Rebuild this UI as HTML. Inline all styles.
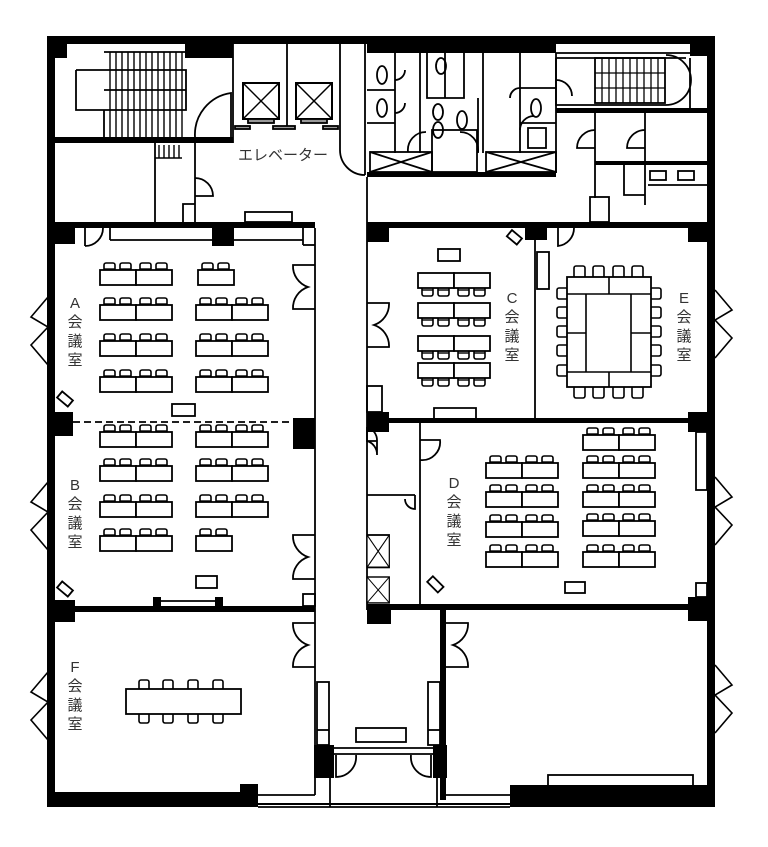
<!DOCTYPE html>
<html><head><meta charset="utf-8"><style>
html,body{margin:0;padding:0;background:#fff;}
svg{display:block;}
text{font-family:"Liberation Sans","Noto Sans CJK JP",sans-serif;fill:#333;}
</style></head><body>
<svg width="768" height="847" viewBox="0 0 768 847" xmlns="http://www.w3.org/2000/svg">
<defs>
<g id="ch"><rect x="0" y="0" width="11" height="9" rx="2" fill="#fff" stroke="#000" stroke-width="1.6"/><line x1="0" y1="6" x2="11" y2="6" stroke="#000" stroke-width="1.4"/></g>
<g id="ta"><use href="#ch" x="4" y="0"/><use href="#ch" x="20" y="0"/><rect x="0" y="7" width="36" height="15" fill="#fff" stroke="#000" stroke-width="1.8"/></g>
<g id="ta2"><use href="#ta" x="0"/><use href="#ta" x="36"/></g>
<g id="chb"><rect x="0" y="0" width="11" height="9" rx="2" fill="#fff" stroke="#000" stroke-width="1.6"/><line x1="0" y1="3" x2="11" y2="3" stroke="#000" stroke-width="1.4"/></g>
<g id="tb"><use href="#chb" x="4" y="14"/><use href="#chb" x="20" y="14"/><rect x="0" y="0" width="36" height="15" fill="#fff" stroke="#000" stroke-width="1.8"/></g>
<g id="tb2"><use href="#tb" x="0"/><use href="#tb" x="36"/></g>
<g id="win"><polyline points="0,0 -17,20 0,30 0,30 -17,48 0,68" fill="none" stroke="#000" stroke-width="1.6"/></g>
<g id="winr"><polyline points="0,0 17,20 0,30 0,30 17,48 0,68" fill="none" stroke="#000" stroke-width="1.6"/></g>
<g id="xb"><rect x="0" y="0" width="36" height="36" fill="#fff" stroke="#000" stroke-width="2"/><line x1="0" y1="0" x2="36" y2="36" stroke="#000" stroke-width="1.5"/><line x1="36" y1="0" x2="0" y2="36" stroke="#000" stroke-width="1.5"/></g>
<g id="dd"><path d="M0,0 H22 A22,22 0 0 1 7,22 A22,22 0 0 1 22,44 H0" fill="none" stroke="#000" stroke-width="1.8"/></g>
</defs>

<g fill="none" stroke="#000" stroke-width="1.8">
<rect x="51" y="40" width="660" height="764" stroke-width="2"/>
</g>
<g fill="#000">
<rect x="47" y="36" width="668" height="8"/>
<rect x="47" y="36" width="8" height="771"/>
<rect x="707" y="36" width="8" height="771"/>
<rect x="47" y="792" width="211" height="15"/>
<rect x="510" y="785" width="205" height="22"/>
<rect x="47" y="36" width="20" height="22"/>
<rect x="185" y="36" width="48" height="22"/>
<rect x="367" y="36" width="189" height="17"/>
<rect x="690" y="36" width="25" height="20"/>
<rect x="47" y="137" width="186" height="6"/>
<rect x="367" y="172" width="189" height="5"/>
<rect x="556" y="108" width="159" height="5"/>
<rect x="595" y="161" width="112" height="4"/>
<rect x="47" y="222" width="268" height="6"/>
<rect x="367" y="222" width="348" height="6"/>
<rect x="47" y="222" width="28" height="22"/>
<rect x="212" y="222" width="22" height="24"/>
<rect x="367" y="222" width="22" height="20"/>
<rect x="525" y="222" width="22" height="18"/>
<rect x="688" y="222" width="27" height="20"/>
<rect x="47" y="412" width="26" height="24"/>
<rect x="293" y="418" width="22" height="31"/>
<rect x="367" y="412" width="22" height="20"/>
<rect x="688" y="412" width="27" height="20"/>
<rect x="367" y="418" width="348" height="5"/>
<rect x="47" y="600" width="28" height="22"/>
<rect x="47" y="606" width="268" height="6"/>
<rect x="367" y="604" width="348" height="6"/>
<rect x="367" y="604" width="24" height="20"/>
<rect x="688" y="597" width="27" height="24"/>
<rect x="153" y="597" width="8" height="12"/>
<rect x="215" y="597" width="8" height="12"/>
<rect x="440" y="610" width="6" height="190"/>
<rect x="314" y="745" width="20" height="33"/>
<rect x="433" y="745" width="14" height="33"/>
<rect x="240" y="784" width="18" height="10"/>
</g>

<g fill="none" stroke="#000" stroke-width="1.8">
<line x1="315" y1="228" x2="315" y2="795"/>
<line x1="367" y1="177" x2="367" y2="610"/>
<line x1="258" y1="795" x2="315" y2="795"/>
<line x1="258" y1="807" x2="510" y2="807"/>
<line x1="330" y1="778" x2="330" y2="807"/>
<line x1="437" y1="778" x2="437" y2="807"/>
<line x1="446" y1="795" x2="510" y2="795"/>
<rect x="317" y="682" width="12" height="63"/><line x1="317" y1="730" x2="329" y2="730"/>
<rect x="428" y="682" width="12" height="63"/><line x1="428" y1="730" x2="440" y2="730"/>
<rect x="356" y="728" width="50" height="14"/>
<line x1="334" y1="748" x2="433" y2="748"/><line x1="334" y1="754" x2="433" y2="754"/>
<path d="M336,755 v22 a20,20 0 0 0 20,-22"/>
<path d="M431,755 v22 a20,20 0 0 1 -20,-22"/>
<line x1="233" y1="40" x2="233" y2="143"/>
<line x1="287" y1="40" x2="287" y2="128"/>
<line x1="340" y1="40" x2="340" y2="150"/>
<path d="M340,150 a25,25 0 0 0 25,25 M365,40 v135"/>
<use href="#xb" x="243" y="83"/><use href="#xb" x="296" y="83"/>
<rect x="248" y="119" width="26" height="4" fill="#999"/>
<rect x="301" y="119" width="26" height="4" fill="#999"/>
<rect x="235" y="126" width="15" height="3" fill="#999"/>
<rect x="273" y="126" width="22" height="3" fill="#999"/>
<rect x="323" y="126" width="15" height="3" fill="#999"/>
<path d="M231,137 v-44 a42,42 0 0 0 -36,44"/>
<line x1="195" y1="143" x2="195" y2="222"/>
<line x1="155" y1="143" x2="155" y2="222"/>
<path d="M195,178 a18,18 0 0 1 18,18 h-18"/>
<path d="M183,222 v-18 h12"/>
<rect x="245" y="212" width="47" height="10"/>
<path d="M104,52 h83 M76,70 h110 v40 h-82 v28 M76,70 v40 h28 M104,110 h82 M104,90 h82"/>
<g stroke-width="1.4">
<line x1="110" y1="52" x2="110" y2="138"/><line x1="116" y1="52" x2="116" y2="138"/><line x1="122" y1="52" x2="122" y2="138"/><line x1="128" y1="52" x2="128" y2="138"/><line x1="134" y1="52" x2="134" y2="138"/><line x1="140" y1="52" x2="140" y2="138"/><line x1="146" y1="52" x2="146" y2="138"/><line x1="152" y1="52" x2="152" y2="138"/><line x1="158" y1="52" x2="158" y2="138"/><line x1="164" y1="52" x2="164" y2="138"/><line x1="170" y1="52" x2="170" y2="138"/><line x1="176" y1="52" x2="176" y2="138"/><line x1="182" y1="52" x2="182" y2="138"/>
<line x1="159" y1="145" x2="159" y2="158"/><line x1="164" y1="145" x2="164" y2="158"/><line x1="169" y1="145" x2="169" y2="158"/><line x1="174" y1="145" x2="174" y2="158"/><line x1="179" y1="145" x2="179" y2="158"/><line x1="155" y1="158" x2="182" y2="158"/>
</g>
<path d="M395,53 v100 M367,90 h28 M367,123 h28 M420,53 v100 M427,53 v45 h37 v-45 M445,53 v45 M478,98 v55 M483,53 v100 M520,53 v100 M520,88 h36 M520,123 h36 M556,53 v120"/>
<ellipse cx="382" cy="75" rx="5" ry="9"/><ellipse cx="382" cy="108" rx="5" ry="9"/>
<ellipse cx="441" cy="66" rx="5" ry="8"/><ellipse cx="438" cy="112" rx="5" ry="8"/><ellipse cx="438" cy="130" rx="5" ry="8"/><ellipse cx="462" cy="120" rx="5" ry="9"/><ellipse cx="536" cy="108" rx="5" ry="9"/>
<rect x="432" y="130" width="45" height="42"/>
<rect x="528" y="128" width="18" height="20"/>
<rect x="370" y="152" width="62" height="20"/><path d="M370,152 L432,172 M432,152 L370,172"/>
<rect x="486" y="152" width="70" height="20"/><path d="M486,152 L556,172 M556,152 L486,172"/>
<path d="M395,80 a10,10 0 0 0 10,-10 M395,113 a10,10 0 0 0 10,-10 M510,98 a10,10 0 0 1 10,-10 M408,152 a18,18 0 0 1 18,-20 M478,152 a18,18 0 0 0 -18,-20 M520,130 a14,14 0 0 1 14,-14"/>
<path d="M556,53 h134 M556,58 h130 M556,58 v47 h110 a25,25 0 0 0 0,-50 M690,58 v50"/>
<path d="M556,80 a16,16 0 0 1 16,16"/>
<rect x="595" y="58" width="70" height="45"/>
<g stroke-width="1.3"><line x1="602" y1="58" x2="602" y2="103"/><line x1="609" y1="58" x2="609" y2="103"/><line x1="616" y1="58" x2="616" y2="103"/><line x1="623" y1="58" x2="623" y2="103"/><line x1="630" y1="58" x2="630" y2="103"/><line x1="637" y1="58" x2="637" y2="103"/><line x1="644" y1="58" x2="644" y2="103"/><line x1="651" y1="58" x2="651" y2="103"/><line x1="658" y1="58" x2="658" y2="103"/><line x1="595" y1="73" x2="665" y2="73"/><line x1="595" y1="88" x2="665" y2="88"/></g>
<line x1="595" y1="113" x2="595" y2="198"/><line x1="645" y1="113" x2="645" y2="205"/>
<path d="M595,148 h-18 a18,18 0 0 1 18,-18 M645,148 h-18 a18,18 0 0 1 18,-18"/>
<path d="M624,165 v30 h21"/>
<rect x="650" y="171" width="16" height="9"/><rect x="678" y="171" width="16" height="9"/>
<line x1="648" y1="185" x2="707" y2="185"/>
<rect x="590" y="197" width="19" height="25"/>
<!-- Room A -->
<line x1="110" y1="228" x2="110" y2="240"/><line x1="110" y1="240" x2="212" y2="240"/>
<line x1="234" y1="240" x2="303" y2="240"/><line x1="303" y1="228" x2="303" y2="245"/><line x1="303" y1="245" x2="315" y2="245"/>
<path d="M85,246 a18,18 0 0 0 18,-18 M85,228 v18"/>
<use href="#dd" transform="translate(315,265) scale(-1,1)"/>
<rect x="58" y="395" width="14" height="8" transform="rotate(40 65 399)"/>
<rect x="172" y="404" width="23" height="12"/>
<line x1="73" y1="422" x2="293" y2="422" stroke-dasharray="7,4"/>
<!-- Room B -->
<rect x="196" y="576" width="21" height="12"/>
<rect x="58" y="585" width="14" height="8" transform="rotate(40 65 589)"/>
<use href="#dd" transform="translate(315,535) scale(-1,1)"/>
<rect x="303" y="594" width="12" height="12"/>
<line x1="161" y1="601" x2="215" y2="601"/>
<!-- Room F -->
<use href="#dd" transform="translate(315,623) scale(-1,1)"/>
<!-- Room C -->
<use href="#dd" transform="translate(367,303)"/>
<rect x="367" y="386" width="15" height="26"/>
<rect x="438" y="249" width="22" height="12"/>
<rect x="508" y="233" width="13" height="8" transform="rotate(40 514 237)"/>
<path d="M434,418 v-10 h42 v10"/>
<line x1="535" y1="228" x2="535" y2="418"/>
<!-- Room E -->
<rect x="537" y="252" width="12" height="37"/>
<path d="M558,228 v18 a18,18 0 0 0 16,-18"/>
<!-- D area -->
<line x1="420" y1="423" x2="420" y2="604"/>
<line x1="367" y1="495" x2="415" y2="495"/>
<path d="M367,427 v14 h10 a14,14 0 0 0 -10,-14 M367,441 a14,14 0 0 1 10,14 v-14 M420,460 a18,18 0 0 0 20,-20 h-20"/>
<path d="M415,495 v14 a10,10 0 0 1 -10,-10"/>
<use href="#xb" transform="translate(367,535) scale(0.62,0.9)"/>
<use href="#xb" transform="translate(367,577) scale(0.62,0.72)"/>
<rect x="428" y="580" width="15" height="8" transform="rotate(45 435 584)"/>
<rect x="565" y="582" width="20" height="11"/>
<rect x="696" y="432" width="11" height="58"/>
<rect x="696" y="583" width="11" height="14"/>
<!-- bottom right room -->
<use href="#dd" transform="translate(446,623)"/>
<rect x="548" y="775" width="145" height="12"/>
</g>

<use href="#ta2" x="100" y="263"/><use href="#ta" x="198" y="263"/>
<use href="#ta2" x="100" y="298"/><use href="#ta2" x="196" y="298"/>
<use href="#ta2" x="100" y="334"/><use href="#ta2" x="196" y="334"/>
<use href="#ta2" x="100" y="370"/><use href="#ta2" x="196" y="370"/>
<use href="#ta2" x="100" y="425"/><use href="#ta2" x="196" y="425"/>
<use href="#ta2" x="100" y="459"/><use href="#ta2" x="196" y="459"/>
<use href="#ta2" x="100" y="495"/><use href="#ta2" x="196" y="495"/>
<use href="#ta2" x="100" y="529"/><use href="#ta" x="196" y="529"/>
<use href="#tb2" x="418" y="273"/><use href="#tb2" x="418" y="303"/>
<use href="#tb2" x="418" y="336"/><use href="#tb2" x="418" y="363"/>
<use href="#ta2" x="486" y="456"/><use href="#ta2" x="486" y="485"/>
<use href="#ta2" x="486" y="515"/><use href="#ta2" x="486" y="545"/>
<use href="#ta2" x="583" y="428"/><use href="#ta2" x="583" y="456"/>
<use href="#ta2" x="583" y="485"/><use href="#ta2" x="583" y="514"/><use href="#ta2" x="583" y="545"/>
<g fill="#fff" stroke="#000" stroke-width="1.6">
<rect x="574" y="266" width="11" height="12" rx="2"/><rect x="593" y="266" width="11" height="12" rx="2"/><rect x="613" y="266" width="11" height="12" rx="2"/><rect x="632" y="266" width="11" height="12" rx="2"/>
<rect x="574" y="386" width="11" height="12" rx="2"/><rect x="593" y="386" width="11" height="12" rx="2"/><rect x="613" y="386" width="11" height="12" rx="2"/><rect x="632" y="386" width="11" height="12" rx="2"/>
<rect x="557" y="288" width="11" height="11" rx="2"/><rect x="557" y="307" width="11" height="11" rx="2"/><rect x="557" y="326" width="11" height="11" rx="2"/><rect x="557" y="345" width="11" height="11" rx="2"/><rect x="557" y="365" width="11" height="11" rx="2"/>
<rect x="650" y="288" width="11" height="11" rx="2"/><rect x="650" y="307" width="11" height="11" rx="2"/><rect x="650" y="326" width="11" height="11" rx="2"/><rect x="650" y="345" width="11" height="11" rx="2"/><rect x="650" y="365" width="11" height="11" rx="2"/>
<rect x="567" y="277" width="84" height="110" stroke-width="1.8"/>
</g>
<g fill="none" stroke="#000" stroke-width="1.6">
<path d="M567,294 h84 M567,372 h84 M609,277 v17 M609,372 v15 M586,294 v78 M631,294 v78 M567,333 h19 M631,333 h20"/>
</g>
<g fill="#fff" stroke="#000" stroke-width="1.6">
<rect x="139" y="680" width="10" height="10" rx="2"/><rect x="163" y="680" width="10" height="10" rx="2"/><rect x="188" y="680" width="10" height="10" rx="2"/><rect x="213" y="680" width="10" height="10" rx="2"/>
<rect x="139" y="713" width="10" height="10" rx="2"/><rect x="163" y="713" width="10" height="10" rx="2"/><rect x="188" y="713" width="10" height="10" rx="2"/><rect x="213" y="713" width="10" height="10" rx="2"/>
<rect x="126" y="689" width="115" height="25" stroke-width="1.8"/>
</g>

<use href="#win" x="48" y="297"/>
<use href="#win" x="48" y="482"/>
<use href="#win" x="48" y="672"/>
<use href="#winr" x="715" y="290"/>
<use href="#winr" x="715" y="477"/>
<use href="#winr" x="715" y="665"/>

<g font-size="15" text-anchor="middle">
<text x="75" y="308">A</text><text x="75" y="327">会</text><text x="75" y="346">議</text><text x="75" y="365">室</text>
<text x="75" y="490">B</text><text x="75" y="509">会</text><text x="75" y="528">議</text><text x="75" y="547">室</text>
<text x="75" y="672">F</text><text x="75" y="691">会</text><text x="75" y="710">議</text><text x="75" y="729">室</text>
<text x="512" y="303">C</text><text x="512" y="322">会</text><text x="512" y="341">議</text><text x="512" y="360">室</text>
<text x="684" y="303">E</text><text x="684" y="322">会</text><text x="684" y="341">議</text><text x="684" y="360">室</text>
<text x="454" y="488">D</text><text x="454" y="507">会</text><text x="454" y="526">議</text><text x="454" y="545">室</text>
</g>
<text x="238" y="160" font-size="15">エレベーター</text>
</svg>
</body></html>
